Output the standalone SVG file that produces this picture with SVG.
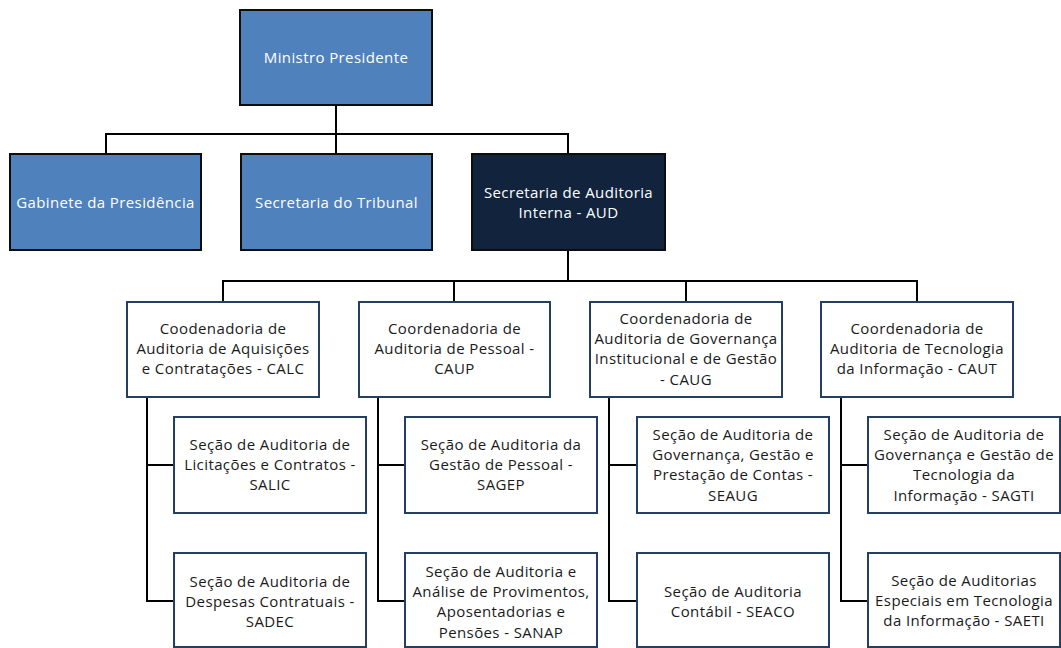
<svg xmlns="http://www.w3.org/2000/svg" width="1061" height="648" viewBox="0 0 1061 648">
<style>
.top rect{fill:#4F81BD;stroke:#0d0d0d;stroke-width:2}
.aud rect{fill:#12243D;stroke:#0d0d0d;stroke-width:2}
.sub rect{fill:#ffffff;stroke:#243F60;stroke-width:2}
text{font-family:"Open Sans","Noto Sans","Liberation Sans",sans-serif;font-size:15px;letter-spacing:0.4px;text-anchor:middle}
.top text,.aud text{fill:#ffffff}
.sub text{fill:#1a1a1a}
.conn{fill:none;stroke:#000000;stroke-width:2}
</style>
<rect width="1061" height="648" fill="#ffffff"/>
<g id="connectors" class="conn">
<path d="M336 105V134M106 154V134H568V154M336 134V154"/>
<path d="M568 250V281M223 302V281H917V302M454 281V302M686 281V302"/>
<path d="M147 397V601H174M147 465H174"/>
<path d="M378 397V601H405M378 465H405"/>
<path d="M609 397V601H637M609 465H637"/>
<path d="M841 397V601H868M841 465H868"/>
</g>
<g id="ministro" class="top"><rect x="240" y="10" width="192" height="95"/><text x="336" y="63">Ministro Presidente</text></g>
<g id="gabinete" class="top"><rect x="10" y="154" width="191" height="96"/><text x="105.5" y="208">Gabinete da Presidência</text></g>
<g id="tribunal" class="top"><rect x="241" y="154" width="191" height="96"/><text x="336.5" y="208">Secretaria do Tribunal</text></g>
<g id="aud" class="aud"><rect x="472" y="154" width="193" height="96"/><text x="568.5" y="198">Secretaria de Auditoria</text><text x="568.5" y="218">Interna - AUD</text></g>
<g id="calc" class="sub"><rect x="127" y="302" width="192" height="95"/><text x="223" y="334">Coodenadoria de</text><text x="223" y="354">Auditoria de Aquisições</text><text x="223" y="374">e Contratações - CALC</text></g>
<g id="caup" class="sub"><rect x="359" y="302" width="191" height="95"/><text x="454.5" y="334">Coordenadoria de</text><text x="454.5" y="354">Auditoria de Pessoal -</text><text x="454.5" y="374">CAUP</text></g>
<g id="caug" class="sub"><rect x="590" y="302" width="192" height="95"/><text x="686" y="324">Coordenadoria de</text><text x="686" y="344">Auditoria de Governança</text><text x="686" y="364">Institucional e de Gestão</text><text x="686" y="385">- CAUG</text></g>
<g id="caut" class="sub"><rect x="821" y="302" width="192" height="95"/><text x="917" y="334">Coordenadoria de</text><text x="917" y="354">Auditoria de Tecnologia</text><text x="917" y="374">da Informação - CAUT</text></g>
<g id="salic" class="sub"><rect x="174" y="417" width="192" height="96"/><text x="270" y="450">Seção de Auditoria de</text><text x="270" y="470">Licitações e Contratos -</text><text x="270" y="490">SALIC</text></g>
<g id="sadec" class="sub"><rect x="174" y="553" width="192" height="94"/><text x="270" y="587">Seção de Auditoria de</text><text x="270" y="607">Despesas Contratuais -</text><text x="270" y="627">SADEC</text></g>
<g id="sagep" class="sub"><rect x="405" y="417" width="192" height="96"/><text x="501" y="450">Seção de Auditoria da</text><text x="501" y="470">Gestão de Pessoal -</text><text x="501" y="490">SAGEP</text></g>
<g id="sanap" class="sub"><rect x="405" y="553" width="192" height="94"/><text x="501" y="577">Seção de Auditoria e</text><text x="501" y="597">Análise de Provimentos,</text><text x="501" y="617">Aposentadorias e</text><text x="501" y="638">Pensões - SANAP</text></g>
<g id="seaug" class="sub"><rect x="637" y="417" width="192" height="96"/><text x="733" y="440">Seção de Auditoria de</text><text x="733" y="460">Governança, Gestão e</text><text x="733" y="480">Prestação de Contas -</text><text x="733" y="501">SEAUG</text></g>
<g id="seaco" class="sub"><rect x="637" y="553" width="192" height="94"/><text x="733" y="597">Seção de Auditoria</text><text x="733" y="617">Contábil - SEACO</text></g>
<g id="sagti" class="sub"><rect x="868" y="417" width="192" height="96"/><text x="964" y="440">Seção de Auditoria de</text><text x="964" y="460">Governança e Gestão de</text><text x="964" y="480">Tecnologia da</text><text x="964" y="501">Informação - SAGTI</text></g>
<g id="saeti" class="sub"><rect x="868" y="553" width="192" height="94"/><text x="964" y="586">Seção de Auditorias</text><text x="964" y="606">Especiais em Tecnologia</text><text x="964" y="626">da Informação - SAETI</text></g>
</svg>
